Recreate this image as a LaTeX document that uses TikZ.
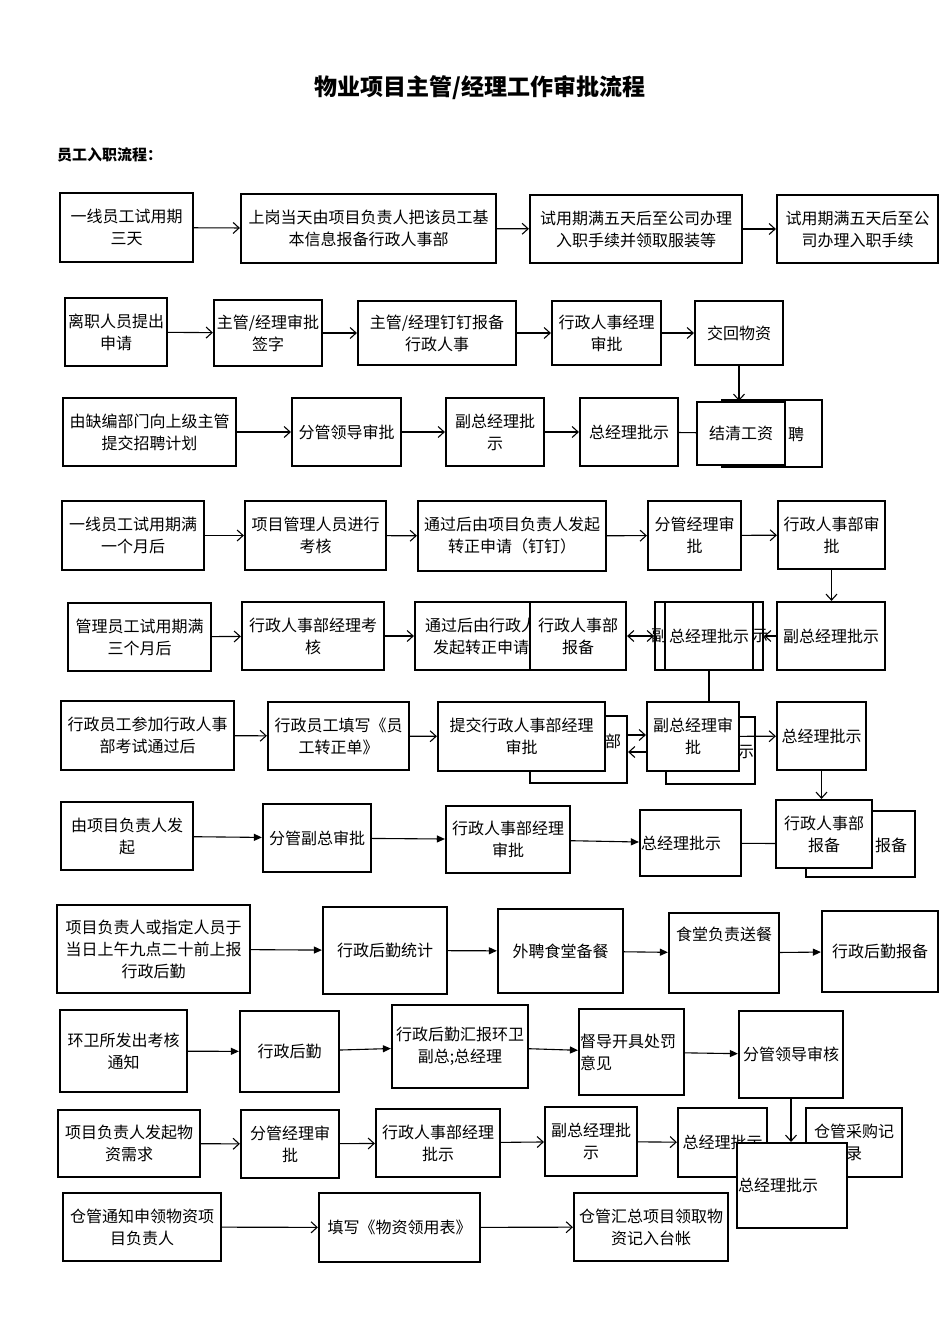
\documentclass[tikz,border=0pt]{standalone}
\usepackage{fontspec}
\newfontfamily\cjk{Noto Sans CJK SC}
\usetikzlibrary{positioning, arrows.meta, calc}

\begin{document}
\begin{tikzpicture}[x=1pt, y=-1pt,
    box/.style={rectangle, draw=black, line width=2.2pt, fill=white, align=center, inner sep=1pt, font=\cjk\fontsize{16}{22}\selectfont},
    sz/.style 2 args={minimum width=#1pt, minimum height=#2pt},
    txt/.style={inner sep=0pt, align=center, font=\cjk\fontsize{16}{22}\selectfont},
    oarr/.style={line width=1.1pt, -{Straight Barb[length=6pt, width=11pt]}},
    oarrs/.style={line width=1.1pt, {Straight Barb[length=6pt, width=11pt]}-{Straight Barb[length=6pt, width=11pt]}},
    farr/.style={line width=1.1pt, -{Triangle[length=8pt, width=7pt]}},
    link/.style={line width=1.1pt}
]
\useasboundingbox (0,0) rectangle (950,1344);
\fill[white] (0,0) rectangle (950,1344);

\node[font=\cjk\bfseries\fontsize{23}{28}\selectfont] (title) at (480,88) {物业项目主管/经理工作审批流程};
\node[anchor=west, inner sep=0pt, font=\cjk\bfseries\fontsize{15}{18}\selectfont] (head) at (57,155) {员工入职流程：};

% row 1
\node[box, sz={133}{69}] (r1a) at (126.5,227.5) {一线员工试用期\\三天};
\node[box, sz={255}{69}] (r1b) at (368.5,228.5) {上岗当天由项目负责人把该员工基\\本信息报备行政人事部};
\node[box, sz={212}{68}] (r1c) at (636,229) {试用期满五天后至公司办理\\入职手续并领取服装等};
\node[box, sz={161}{68}] (r1d) at (857.5,229) {试用期满五天后至公\\司办理入职手续};
\draw[oarr] (r1a) -- (r1b);
\draw[oarr] (r1b) -- (r1c);
\draw[oarr] (r1c) -- (r1d);

% row 2
\node[box, sz={102}{68}] (r2a) at (116,332) {离职人员提出\\申请};
\node[box, sz={108}{66}] (r2b) at (268,333) {主管/经理审批\\签字};
\node[box, sz={158}{64}] (r2c) at (437,333) {主管/经理钉钉报备\\行政人事};
\node[box, sz={109}{64}] (r2d) at (606.5,333) {行政人事经理\\审批};
\node[box, sz={88}{64}] (r2e) at (739,333) {交回物资};
\draw[oarr] (r2a) -- (r2b);
\draw[oarr] (r2b) -- (r2c);
\draw[oarr] (r2c) -- (r2d);
\draw[oarr] (r2d) -- (r2e);

% row 3
\node[box, sz={173}{68}] (r3a) at (149.5,432) {由缺编部门向上级主管\\提交招聘计划};
\node[box, sz={109}{68}] (r3b) at (346.5,432) {分管领导审批};
\node[box, sz={98}{68}] (r3c) at (495,432) {副总经理批\\示};
\node[box, sz={98}{68}] (r3d) at (629,432) {总经理批示};
\node[box, sz={100}{67}] (r3e) at (772,433.5) {};
\node[txt] (r3et) at (796,434) {聘};
\draw[link] (r3d) -- (r3e);
\node[box, sz={88}{63}] (r3f) at (741,433.5) {结清工资};
\draw[oarr] (r2e) -- (r2e |- r3f.north);
\draw[oarr] (r3a) -- (r3b);
\draw[oarr] (r3b) -- (r3c);
\draw[oarr] (r3c) -- (r3d);

% row 4
\node[box, sz={142}{69}] (r4a) at (133,535.5) {一线员工试用期满\\一个月后};
\node[box, sz={141}{69}] (r4b) at (315.5,535.5) {项目管理人员进行\\考核};
\node[box, sz={188}{70}] (r4c) at (512,536) {通过后由项目负责人发起\\转正申请（钉钉）};
\node[box, sz={93}{69}] (r4d) at (694.5,535.5) {分管经理审\\批};
\node[box, sz={107}{68}] (r4e) at (831.5,535) {行政人事部审\\批};
\draw[oarr] (r4a) -- (r4b);
\draw[oarr] (r4b) -- (r4c);
\draw[oarr] (r4c) -- (r4d);
\draw[oarr] (r4d) -- (r4e);

% row 5
\node[box, sz={143}{68}] (r5a) at (139.5,637) {管理员工试用期满\\三个月后};
\node[box, sz={142}{68}] (r5b) at (313,636) {行政人事部经理考\\核};
\node[box, sz={200}{68}] (r5c) at (515,636) {};
\node[txt] (r5ct) at (481,636) {通过后由行政人\\发起转正申请};
\node[box, sz={96}{68}] (r5d) at (578,636) {行政人事部\\报备};
\node[box, sz={108}{68}] (r5e) at (709,636) {};
\node[txt] (r5et1) at (659,636) {副};
\node[txt] (r5et2) at (760,636) {示};
\node[box, sz={88}{68}] (r5g) at (709,636) {总经理批示};
\node[box, sz={108}{68}] (r5f) at (831,636) {副总经理批示};
\draw[oarr] (r4e) -- (r4e |- r5f.north);
\draw[oarr] (r5a) -- (r5b);
\draw[oarr] (r5b) -- (r5c);
\draw[oarrs] (r5d) -- (r5e);
\draw[oarr] (r5f) -- (r5e);

% row 6
\node[box, sz={173}{69}] (r6a) at (147.5,735.5) {行政员工参加行政人事\\部考试通过后};
\node[box, sz={141}{68}] (r6b) at (338.5,736) {行政员工填写《员\\工转正单》};
\node[box, sz={97}{67}] (r6c) at (578.5,749.5) {};
\node[txt] (r6ct) at (613,741) {部};
\node[box, sz={167}{69}] (r6d) at (521.5,736.5) {提交行政人事部经理\\审批};
\node[box, sz={89}{67}] (r6e) at (710.5,750.5) {};
\node[txt] (r6et) at (746,752) {示};
\node[box, sz={92}{69}] (r6f) at (693,736.5) {副总经理审\\批};
\node[box, sz={89}{68}] (r6g) at (821.5,736) {总经理批示};
\draw[link] (r5g.south) -- (r5g.south |- r6f.north);
\draw[oarr] (r6a) -- (r6b);
\draw[oarr] (r6b) -- (r6d);
\coordinate (p1) at ([yshift=14.5pt]r6c.east);
\coordinate (p2) at ([yshift=-15.5pt]r6f.west);
\draw[oarr] (p1) -- (p1 -| r6f.west);
\draw[oarr] (p2) -- (p2 -| r6c.east);
\draw[oarr] (r6f) -- (r6g);

% row 7
\node[box, sz={132}{68}] (r7a) at (127,836) {由项目负责人发\\起};
\node[box, sz={108}{68}] (r7b) at (317,838) {分管副总审批};
\node[box, sz={124}{67}] (r7c) at (508,839.5) {行政人事部经理\\审批};
\node[box, text width=99pt, align=left, minimum height=66pt] (r7d) at (690.5,843) {总经理批示};
\node[box, sz={109}{66}] (r7e) at (860.5,844) {};
\node[txt] (r7et) at (891,845) {报备};
\draw[link] (r7d) -- (r7e);
\node[box, sz={96}{68}] (r7f) at (824,834) {行政人事部\\报备};
\draw[oarr] (r6g) -- (r6g |- r7f.north);
\draw[farr] (r7a) -- (r7b);
\draw[farr] (r7b) -- (r7c);
\draw[farr] (r7c) -- (r7d);

% row 8
\node[box, sz={193}{88}] (r8a) at (153.5,949) {项目负责人或指定人员于\\当日上午九点二十前上报\\行政后勤};
\node[box, sz={124}{87}] (r8b) at (385,950.5) {行政后勤统计};
\node[box, sz={125}{84}] (r8c) at (560.5,951) {外聘食堂备餐};
\node[box, sz={110}{80}] (r8d) at (724,953) {};
\node[txt, below=15pt of r8d.north] (r8dt) {食堂负责送餐};
\node[box, sz={116}{81}] (r8e) at (880,951.5) {行政后勤报备};
\draw[farr] (r8a) -- (r8b);
\draw[farr] (r8b) -- (r8c);
\draw[farr] (r8c) -- (r8d);
\draw[farr] (r8d) -- (r8e);

% row 9
\node[box, sz={127}{82}] (r9a) at (123.5,1051) {环卫所发出考核\\通知};
\node[box, sz={99}{81}] (r9b) at (289.5,1051.5) {行政后勤};
\node[box, sz={136}{83}] (r9c) at (460,1046.5) {行政后勤汇报环卫\\副总;总经理};
\node[box, text width=103pt, align=left, minimum height=86pt] (r9d) at (631.5,1052) {督导开具处罚\\意见};
\node[box, sz={104}{87}] (r9e) at (791,1054.5) {分管领导审核};
\draw[farr] (r9a) -- (r9b);
\draw[farr] (r9b) -- (r9c);
\draw[farr] (r9c) -- (r9d);
\draw[farr] (r9d) -- (r9e);

% row 10
\node[box, sz={142}{67}] (r10a) at (129,1143.5) {项目负责人发起物\\资需求};
\node[box, sz={98}{68}] (r10b) at (290,1144) {分管经理审\\批};
\node[box, sz={124}{68}] (r10c) at (438,1143) {行政人事部经理\\批示};
\node[box, sz={92}{69}] (r10d) at (591,1141.5) {副总经理批\\示};
\node[box, sz={89}{69}] (r10e) at (722.5,1142.5) {总经理批示};
\node[box, sz={96}{69}] (r10f) at (854,1142.5) {仓管采购记\\录};
\node[box, text width=108pt, align=left, minimum height=85pt] (r10g) at (792,1185.5) {总经理批示};
\draw[oarr] (r9e) -- (r9e |- r10g.north);
\draw[oarr] (r10a) -- (r10b);
\draw[oarr] (r10b) -- (r10c);
\draw[oarr] (r10c) -- (r10d);
\draw[oarr] (r10d) -- (r10e);

% row 11
\node[box, sz={158}{68}] (r11a) at (142,1227) {仓管通知申领物资项\\目负责人};
\node[box, sz={161}{69}] (r11b) at (399.5,1227.5) {填写《物资领用表》};
\node[box, sz={154}{68}] (r11c) at (651,1227) {仓管汇总项目领取物\\资记入台帐};
\draw[oarr] (r11a) -- (r11b);
\draw[oarr] (r11b) -- (r11c);
\end{tikzpicture}
\end{document}
